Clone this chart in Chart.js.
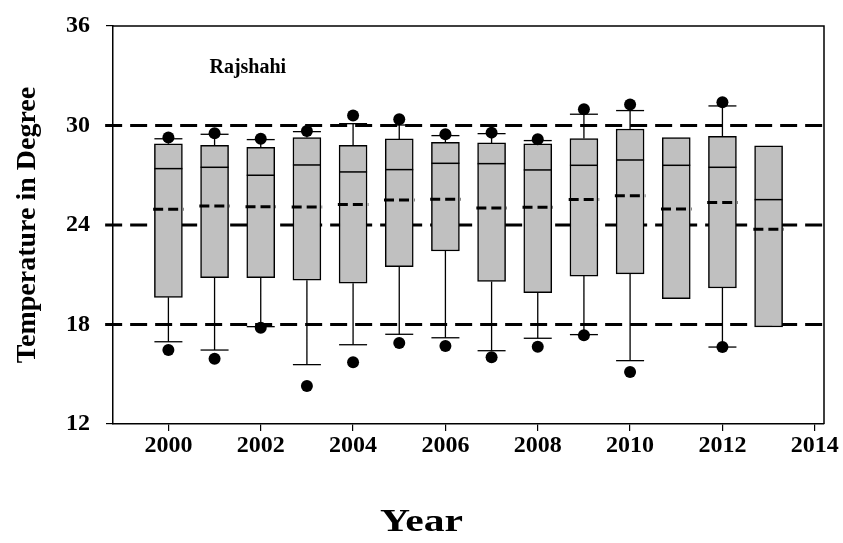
<!DOCTYPE html>
<html>
<head>
<meta charset="utf-8">
<script src="https://cdn.jsdelivr.net/npm/chart.js@4.4.1/dist/chart.umd.min.js"></script>
<style>
  html, body { margin: 0; padding: 0; background: #ffffff; }
  #wrap { width: 843px; height: 543px; }
</style>
</head>
<body>
<div id="wrap"><canvas id="chart" width="843" height="543"></canvas></div>
<script>
// Yearly temperature distribution, Rajshahi (box = quartiles, solid = median,
// dashed = mean, whiskers = 10th/90th, dots = 5th/95th percentiles)
const years       = [2000, 2001, 2002, 2003, 2004, 2005, 2006, 2007, 2008, 2009, 2010, 2011, 2012, 2013];
const boxLow      = [19.64, 20.82, 20.82, 20.67, 20.49, 21.49, 22.43, 20.60, 19.92, 20.92, 21.05, 19.56, 20.20, 17.85];
const boxHigh     = [28.90, 28.81, 28.69, 29.27, 28.81, 29.19, 28.99, 28.95, 28.89, 29.21, 29.79, 29.27, 29.35, 28.77];
const medians     = [27.40, 27.48, 27.00, 27.62, 27.20, 27.34, 27.72, 27.70, 27.32, 27.60, 27.92, 27.60, 27.48, 25.53];
const means       = [24.95, 25.15, 25.10, 25.09, 25.23, 25.51, 25.55, 25.03, 25.07, 25.54, 25.77, 24.97, 25.35, 23.74];
const whiskerLow  = [16.96, 16.46, 17.87, 15.58, 16.78, 17.41, 17.20, 16.42, 17.17, 17.39, 15.82, null, 16.64, null];
const whiskerHigh = [29.20, 29.47, 29.15, 29.63, 30.11, 30.03, 29.39, 29.51, 29.09, 30.68, 30.90, null, 31.18, null];
const dotLow      = [16.46, 15.94, 17.81, 14.29, 15.72, 16.89, 16.70, 16.02, 16.66, 17.35, 15.14, null, 16.64, null];
const dotHigh     = [29.27, 29.53, 29.20, 29.67, 30.60, 30.38, 29.47, 29.57, 29.17, 30.98, 31.26, null, 31.40, null];

const xTicks    = [2000, 2002, 2004, 2006, 2008, 2010, 2012, 2014];
const yTicks    = [12, 18, 24, 30, 36];
const refLevels = [18, 24, 30];
const stationName = 'Rajshahi';
const xTitle = 'Year';
const yTitle = 'Temperature in Degree';

// axis extents and sizes
const X_MIN = 1998.8, X_MAX = 2014.2, REF_START = 1998.63;
const HALF = 0.33;                // half width of the mean dash, in years
const FONT = 'Liberation Serif';

// helpers building broken line paths from the arrays
function vertical(fromArr, toArr) {
  const out = [];
  years.forEach((yr, i) => {
    if (toArr[i] == null) return;
    out.push({ x: yr, y: fromArr[i] }, { x: yr, y: toArr[i] }, { x: yr, y: null });
  });
  return out;
}
function pts(arr) {
  const out = [];
  years.forEach((yr, i) => { if (arr[i] != null) out.push({ x: yr, y: arr[i] }); });
  return out;
}
const meanSegs = [];
years.forEach((yr, i) => {
  meanSegs.push({ x: yr - HALF, y: means[i] }, { x: yr + HALF, y: means[i] }, { x: yr, y: null });
});
const refSegs = [];
refLevels.forEach(v => {
  refSegs.push({ x: REF_START, y: v }, { x: X_MAX, y: v }, { x: X_MAX, y: null });
});

// top and right edges of the plot frame
const framePlugin = {
  id: 'frame',
  afterDatasetsDraw(chart) {
    const { ctx, chartArea: a } = chart;
    ctx.save();
    ctx.strokeStyle = '#000';
    ctx.lineWidth = 1.5;
    ctx.beginPath();
    ctx.moveTo(a.left, a.top);
    ctx.lineTo(a.right, a.top);
    ctx.lineTo(a.right, a.bottom);
    ctx.stroke();
    ctx.restore();
  }
};

// station name inside the plot and the x-axis title centred on the page
const textPlugin = {
  id: 'texts',
  afterDraw(chart) {
    const { ctx, scales, width } = chart;
    ctx.save();
    ctx.fillStyle = '#000';
    ctx.textAlign = 'center';
    ctx.textBaseline = 'middle';
    ctx.font = 'bold 20px "' + FONT + '"';
    ctx.fillText(stationName, scales.x.getPixelForValue(2001.72), scales.y.getPixelForValue(33.47));
    ctx.translate(width / 2, 523);
    ctx.scale(1.3, 1);
    ctx.font = 'bold 32px "' + FONT + '"';
    ctx.fillText(xTitle, 0, 0);
    ctx.restore();
  }
};

new Chart(document.getElementById('chart'), {
  type: 'bar',
  data: {
    datasets: [
      {
        type: 'line', label: 'ref', data: refSegs, order: 10, clip: false,
        borderColor: '#000', borderWidth: 3, borderDash: [17, 8],
        pointRadius: 0, spanGaps: false
      },
      {
        type: 'line', label: 'upper whisker', data: vertical(boxHigh, whiskerHigh), order: 9,
        borderColor: '#000', borderWidth: 1.3, pointRadius: 0, spanGaps: false
      },
      {
        type: 'line', label: 'lower whisker', data: vertical(boxLow, whiskerLow), order: 9,
        borderColor: '#000', borderWidth: 1.3, pointRadius: 0, spanGaps: false
      },
      {
        type: 'bar', label: 'box', order: 5,
        data: years.map((yr, i) => ({ x: yr, y: [boxLow[i], boxHigh[i]] })),
        backgroundColor: '#c0c0c0', borderColor: '#000', borderWidth: 1.5,
        borderSkipped: false, barThickness: 28, grouped: false
      },
      {
        type: 'line', label: 'median', data: pts(medians), order: 3, showLine: false,
        pointStyle: 'line', pointRadius: 14, pointBorderWidth: 1.5, pointBorderColor: '#000'
      },
      {
        type: 'line', label: 'mean', data: meanSegs, order: 2,
        borderColor: '#000', borderWidth: 3, borderDash: [10, 5], pointRadius: 0, spanGaps: false
      },
      {
        type: 'line', label: 'caps', data: pts(whiskerHigh).concat(pts(whiskerLow)), order: 3, showLine: false,
        pointStyle: 'line', pointRadius: 14, pointBorderWidth: 1.3, pointBorderColor: '#000'
      },
      {
        type: 'line', label: 'outliers', data: pts(dotHigh).concat(pts(dotLow)), order: 1, showLine: false,
        pointStyle: 'circle', pointRadius: 6, pointBorderWidth: 0,
        pointBackgroundColor: '#000', pointBorderColor: '#000'
      }
    ]
  },
  options: {
    responsive: false,
    devicePixelRatio: 1,
    animation: false,
    events: [],
    layout: { padding: { left: 0, right: 19, top: 26, bottom: 0 } },
    plugins: { legend: { display: false }, tooltip: { enabled: false }, title: { display: false } },
    scales: {
      x: {
        type: 'linear', min: X_MIN, max: X_MAX, offset: false,
        afterBuildTicks: axis => { axis.ticks = xTicks.map(v => ({ value: v })); },
        afterFit: axis => { axis.height = 119; },
        ticks: {
          color: '#000', padding: 0, maxRotation: 0, autoSkip: false,
          font: { family: FONT, size: 24, weight: 'bold' },
          callback: v => String(v)
        },
        grid: { display: true, offset: false, drawOnChartArea: false, drawTicks: true, tickLength: 7, color: '#000', lineWidth: 1.2 },
        border: { display: true, color: '#000', width: 1.5 }
      },
      y: {
        type: 'linear', min: 12, max: 36,
        afterBuildTicks: axis => { axis.ticks = yTicks.map(v => ({ value: v })); },
        afterFit: axis => { axis.width = 113; },
        ticks: {
          color: '#000', padding: 16, autoSkip: false,
          font: { family: FONT, size: 24, weight: 'bold', lineHeight: 0.5 },
          callback: v => String(v)
        },
        grid: { display: true, drawOnChartArea: false, drawTicks: true, tickLength: 7, color: '#000', lineWidth: 1.2 },
        border: { display: true, color: '#000', width: 1.5 },
        title: {
          display: true, text: yTitle, color: '#000',
          font: { family: FONT, size: 28, weight: 'bold' },
          padding: { top: 11, bottom: 0 }
        }
      }
    }
  },
  plugins: [framePlugin, textPlugin]
});
</script>
</body>
</html>
